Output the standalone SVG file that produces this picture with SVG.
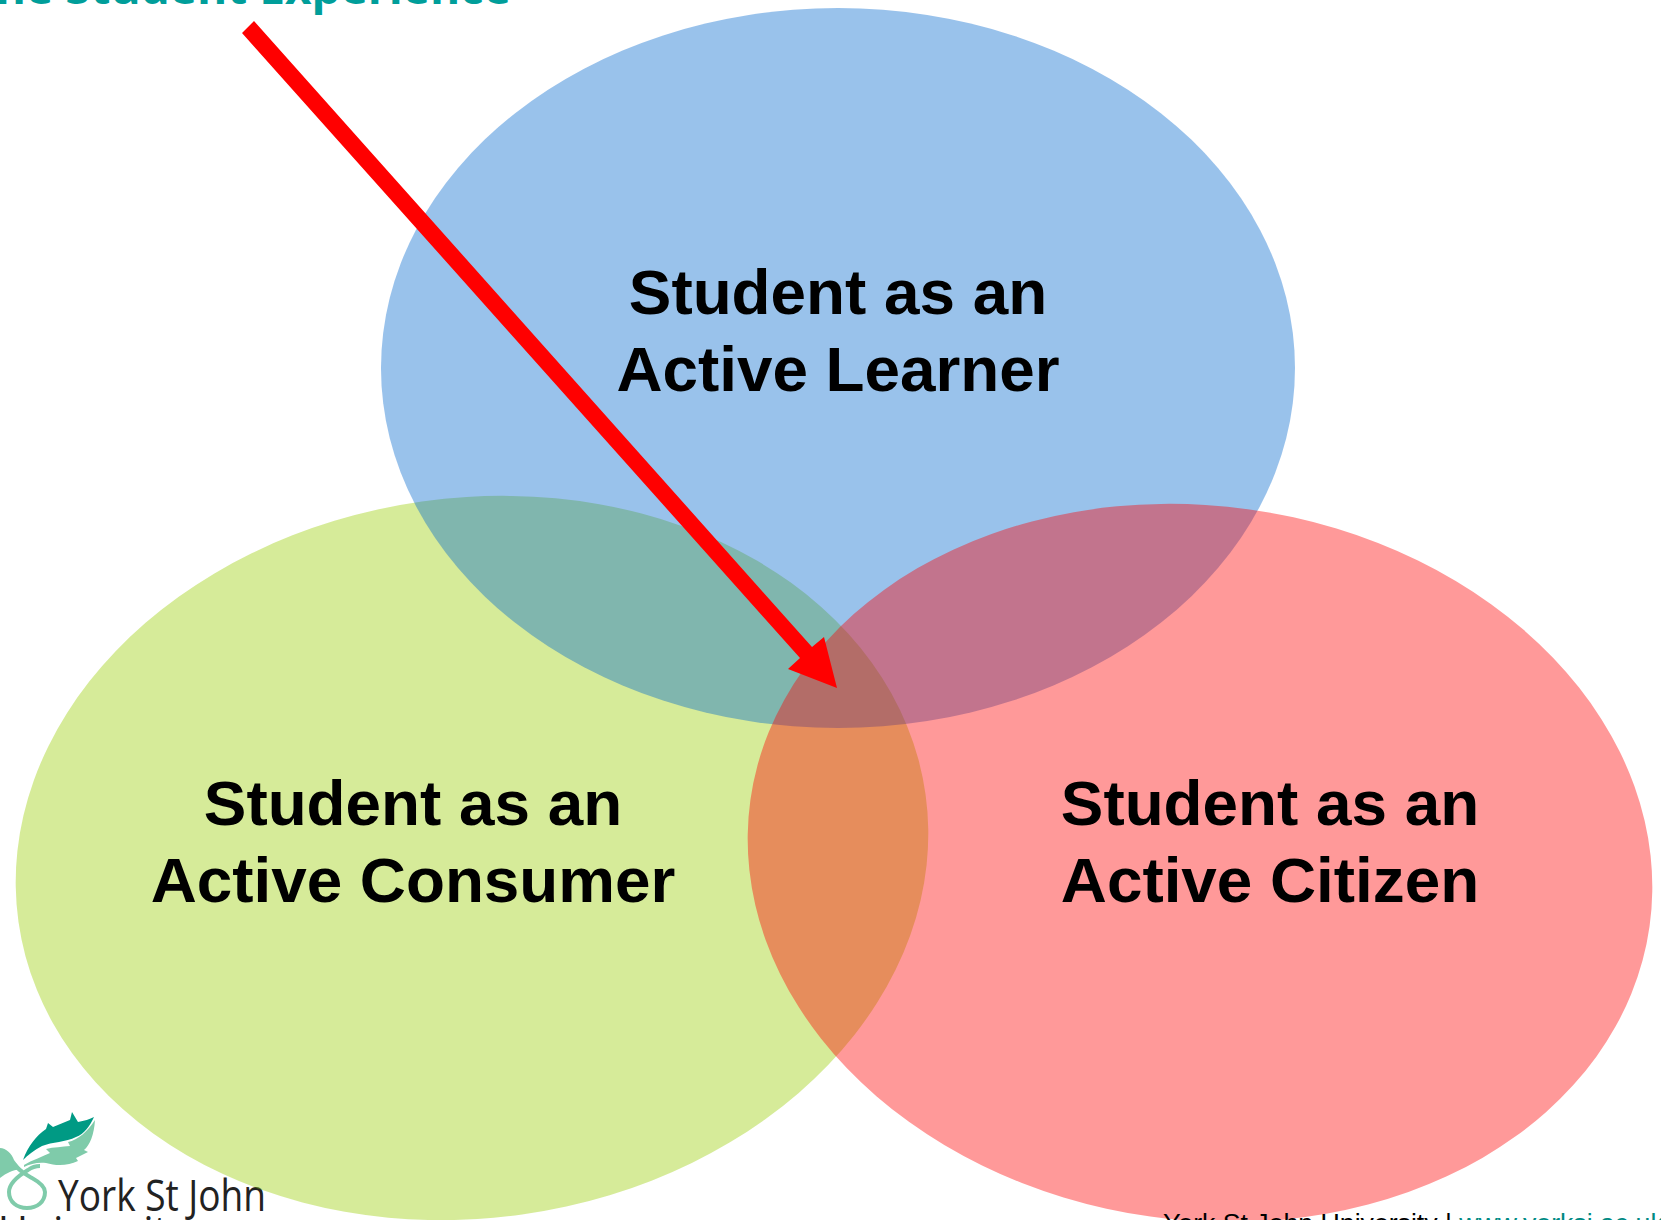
<svg xmlns="http://www.w3.org/2000/svg" width="1661" height="1220" viewBox="0 0 1661 1220">
<style>
.lobe{fill-opacity:.4}
.lbl{font:bold 63.8px "Liberation Sans",Arial,sans-serif;fill:#000;text-anchor:middle}
.foot{font:26.67px "Liberation Sans",Arial,sans-serif;fill:#000}
.logo{font:44px "Open Sans","Noto Sans",sans-serif;fill:#222}
</style>
<rect width="1661" height="1220" fill="#fff"/>
<text x="511" y="4" text-anchor="end" style="font:bold 46px 'Open Sans','Noto Sans',sans-serif;fill:#009e9a">The Student Experience</text>
<g id="logo">
<path d="M23 1160C28 1146 36 1136 46 1129L48 1123L53 1127L70 1120L72 1112L78 1122C84 1121 90 1119 94 1117C90 1126 84 1134 76 1137C66 1142 52 1142 42 1146C34 1150 28 1155 23 1160Z" fill="#009a84"/>
<path d="M24 1165C32 1160 42 1157 50 1153L46 1149C54 1147 62 1147 70 1146L68 1142C78 1140 88 1131 95 1120C94 1135 90 1145 84 1150L88 1152L76 1158L78 1161C68 1166 56 1166 46 1163C38 1162 30 1164 24 1167Z" fill="#7fcbaa"/>
<path d="M0 1148C6 1148 12 1154 14 1160C17 1164 20 1168 23 1170C16 1168 8 1172 0 1178Z" fill="#7fcbaa"/>
<path d="M14 1164C20 1172 27 1175 32 1178C41 1183 45 1188 45 1192C45 1202 37 1208 27 1208C17 1208 9 1202 9 1192C9 1183 18 1176 28 1170C32 1167 36 1166 40 1166" fill="none" stroke="#7fcbaa" stroke-width="4"/>
<text class="logo" x="58" y="1211" textLength="208" lengthAdjust="spacingAndGlyphs">York St John</text>
<text class="logo" x="-2" y="1245" style="font-size:41px">University</text>
</g>
<g id="venn">
<g id="consumer"><ellipse class="lobe" cx="472" cy="858" rx="458" ry="360" transform="rotate(-8 472 858)" fill="#99cc00"/></g>
<g id="learner"><ellipse class="lobe" cx="838" cy="368" rx="457" ry="360" fill="#0066cc"/></g>
<g id="citizen"><ellipse class="lobe" cx="1200" cy="863" rx="454" ry="357" transform="rotate(8 1200 863)" fill="#ff0000"/></g>
</g>
<text class="lbl" x="838" y="313.5">Student as an</text>
<text class="lbl" x="838" y="390.5">Active Learner</text>
<text class="lbl" x="413" y="824.5">Student as an</text>
<text class="lbl" x="413" y="901.5">Active Consumer</text>
<text class="lbl" x="1270" y="824.5">Student as an</text>
<text class="lbl" x="1270" y="901.5">Active Citizen</text>
<text class="foot" x="1163" y="1232">York St John University | <tspan fill="#008a84" text-decoration="underline">www.yorksj.ac.uk</tspan></text>
<g id="connectors">
<polygon points="254,21 242,33 800,658 788,669 837,688 824,637 812,647" fill="#f00"/>
</g>
</svg>
